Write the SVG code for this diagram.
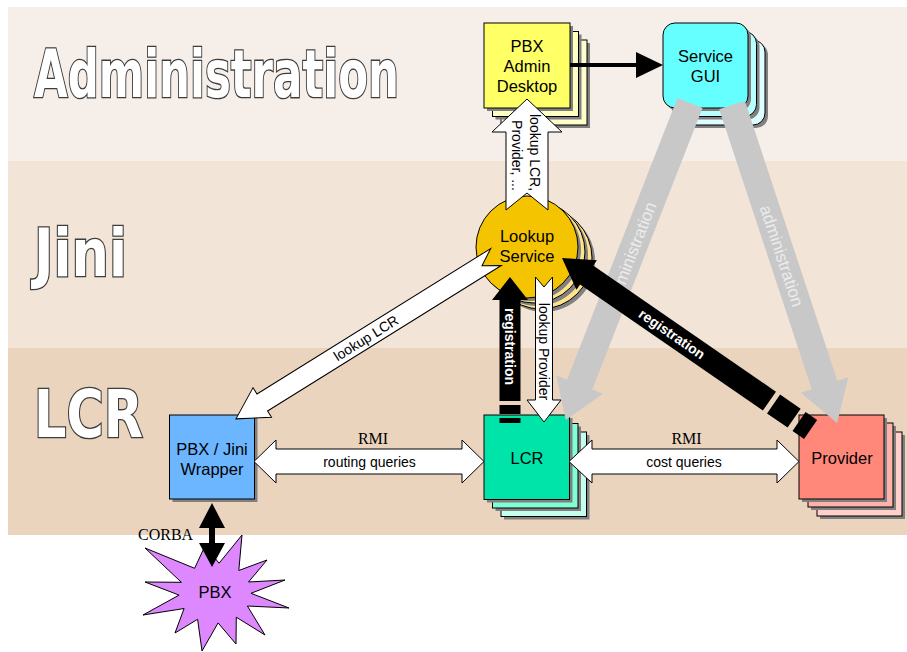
<svg xmlns="http://www.w3.org/2000/svg" width="907" height="652" viewBox="0 0 907 652">
<style>
.title{font-family:"DejaVu Sans","Liberation Sans",Arial,sans-serif;font-weight:bold;font-size:48px;fill:#fff;stroke:#3c3c3c;stroke-width:2.4;paint-order:stroke;vector-effect:non-scaling-stroke}
.nt{font-family:"Liberation Sans",Arial,sans-serif;font-size:16.5px;fill:#000;text-anchor:middle}
.lt{font-family:"Liberation Sans",Arial,sans-serif;font-size:14px;fill:#000;text-anchor:middle}
.rt{font-family:"Liberation Sans",Arial,sans-serif;font-size:14px;font-weight:bold;fill:#fff;text-anchor:middle}
.gt{font-family:"Liberation Sans",Arial,sans-serif;font-size:17px;fill:#ececec;text-anchor:middle}
.sf{font-family:"Liberation Serif","Times New Roman",serif;font-size:16px;fill:#000}
.ol{stroke:#000;stroke-width:1}
.sh{fill:#808080}
.wa{fill:#fff;stroke:#000;stroke-width:1}
.ga{fill:#c8c8c8}
.bk{fill:#000}
</style>
<g id="bands">
<rect x="8" y="7" width="899" height="154" fill="#F6EEE8"/>
<rect x="8" y="161" width="899" height="187" fill="#F2E4D7"/>
<rect x="8" y="348" width="899" height="187" fill="#EAD4BE"/>
<text class="title" transform="translate(34,97) scale(1,1.375)" x="0" y="0" textLength="365" lengthAdjust="spacingAndGlyphs">Administration</text>
<text class="title" transform="translate(34,276) scale(1,1.375)" x="0" y="0" textLength="93" lengthAdjust="spacingAndGlyphs">Jini</text>
<text class="title" transform="translate(34,437) scale(1,1.375)" x="0" y="0" textLength="109" lengthAdjust="spacingAndGlyphs">LCR</text>
</g>
<g id="desktop">
<rect class="sh" x="504" y="43" width="86" height="85"/>
<rect class="ol" x="501" y="40" width="86" height="85" fill="#FFFFCC"/>
<rect class="sh" x="495.5" y="34.5" width="86" height="85"/>
<rect class="ol" x="492.5" y="31.5" width="86" height="85" fill="#FFFFC0"/>
<rect class="sh" x="487" y="26" width="86" height="85"/>
<rect class="ol" x="484" y="23" width="86" height="85" fill="#FFFF66"/>
<text class="nt" x="527" y="52">PBX</text>
<text class="nt" x="527" y="72">Admin</text>
<text class="nt" x="527" y="92">Desktop</text>
</g>
<g id="gui">
<rect class="sh" x="683" y="43" width="85" height="85" rx="12"/>
<rect class="ol" x="680" y="40" width="85" height="85" rx="12" fill="#DDFFFF"/>
<rect class="sh" x="674.5" y="34.5" width="85" height="85" rx="12"/>
<rect class="ol" x="671.5" y="31.5" width="85" height="85" rx="12" fill="#B8FFFF"/>
<rect class="sh" x="666" y="26" width="85" height="85" rx="12"/>
<rect class="ol" x="663" y="23" width="85" height="85" rx="12" fill="#66FFFF"/>
<text class="nt" x="705.5" y="62">Service</text>
<text class="nt" x="705.5" y="82">GUI</text>
</g>
<g id="lookup">
<circle class="sh" cx="544" cy="261" r="51"/>
<circle class="ol" cx="541" cy="258" r="51" fill="#FFE38C"/>
<circle class="sh" cx="537" cy="255" r="51"/>
<circle class="ol" cx="534" cy="252" r="51" fill="#FFE38C"/>
<circle class="sh" cx="530" cy="250" r="51"/>
<circle class="ol" cx="527" cy="247" r="51" fill="#F5C400"/>
<text class="nt" x="527" y="242">Lookup</text>
<text class="nt" x="527" y="262">Service</text>
</g>
<g id="wrapper">
<rect class="sh" x="172.5" y="418" width="85" height="84"/>
<rect class="ol" x="169.5" y="415" width="85" height="84" fill="#6CB6FF"/>
<text class="nt" x="212" y="454.5">PBX / Jini</text>
<text class="nt" x="212" y="474.5">Wrapper</text>
</g>
<g id="lcr">
<rect class="sh" x="504" y="435" width="85.5" height="84.5"/>
<rect class="ol" x="501" y="432" width="85.5" height="84.5" fill="#C4FFEE"/>
<rect class="sh" x="495.5" y="426.5" width="85.5" height="84.5"/>
<rect class="ol" x="492.5" y="423.5" width="85.5" height="84.5" fill="#80FFD6"/>
<rect class="sh" x="487" y="418" width="85.5" height="84.5"/>
<rect class="ol" x="484" y="415" width="85.5" height="84.5" fill="#00E4AA"/>
<text class="nt" x="527" y="463.5">LCR</text>
</g>
<g id="provider">
<rect class="sh" x="820" y="435" width="85" height="84"/>
<rect class="ol" x="817" y="432" width="85" height="84" fill="#FFD0CA"/>
<rect class="sh" x="811" y="426" width="85" height="84"/>
<rect class="ol" x="808" y="423" width="85" height="84" fill="#FFB2AA"/>
<rect class="sh" x="802" y="418" width="85" height="84"/>
<rect class="ol" x="799" y="415" width="85" height="84" fill="#FF887A"/>
<text class="nt" x="842" y="463.5">Provider</text>
</g>
<g id="pbx">
<polygon class="ol" fill="#DD88FF" points="145,548 194.6,568.3 205,546 219.1,563.2 242,535 238.8,570.5 267,560 248.5,582 285,580 251,593.3 289,608 247.4,606 265,635 236.3,617.2 236,644 218.1,622.9 202,651 197.6,619.3 175,633 184.1,608.5 143,615 179.1,595.1 145,582 181.4,582.3"/>
<text class="nt" x="215" y="598">PBX</text>
</g>
<g id="connectors">
<g transform="translate(690,103) rotate(111.4)">
<polygon class="ga" points="0,-13.5 302.4,-13.5 302.4,-25 340.4,0 302.4,25 302.4,13.5 0,13.5"/>
</g>
<text class="gt" transform="translate(631.8,252) rotate(-68.6)" x="0" y="6">administration</text>
<g transform="translate(732,105) rotate(71.7)">
<polygon class="ga" points="0,-13.5 294.9,-13.5 294.9,-25 334.9,0 294.9,25 294.9,13.5 0,13.5"/>
<text class="gt" x="159" y="6">administration</text>
</g>
<line x1="570" y1="65" x2="637" y2="65" stroke="#000" stroke-width="4"/>
<polygon class="bk" points="636,52 663,65 636,78"/>
<polygon class="wa" points="506,210 506,132 492,132 527,99 562,132 548,132 548,210 527,193"/>
<g transform="translate(527,152) rotate(90)">
<text class="lt" x="0.5" y="-3">lookup LCR,</text>
<text class="lt" x="3.5" y="15">Provider, ...</text>
</g>
<polygon class="wa" points="535.5,277 544,287 552.5,277 552.5,400 561,400 544,422 527,400 535.5,400"/>
<text class="lt" transform="translate(544,351.5) rotate(90)" x="0" y="5">lookup Provider</text>
<g transform="translate(496,257) rotate(148.1)">
<polygon class="wa" points="0,-10 275.3,-10 275.3,-17.5 306.3,0 275.3,17.5 275.3,10 0,10 16.5,0"/>
</g>
<text class="lt" font-size="14.5" transform="translate(366,338) rotate(-31.9)" x="0" y="5">lookup LCR</text>
<polygon class="wa" points="254,461.5 276,440 276,449 462,449 462,440 484,461.5 462,483 462,474 276,474 276,483"/>
<text class="sf" x="373" y="444" text-anchor="middle">RMI</text>
<text class="lt" x="369.5" y="466.5">routing queries</text>
<polygon class="wa" points="569,461.5 592,440 592,449 777,449 777,440 799,461.5 777,483 777,474 592,474 592,483"/>
<text class="sf" x="686.5" y="444" text-anchor="middle">RMI</text>
<text class="lt" x="684" y="466.5">cost queries</text>
<polygon class="bk" points="510,277 528,300 492,300"/>
<rect class="bk" x="499.5" y="299" width="21" height="102"/>
<rect class="bk" x="499.5" y="405" width="21" height="9"/>
<rect class="bk" x="499.5" y="418" width="21" height="5"/>
<text class="rt" transform="translate(510,346.5) rotate(90)" x="0" y="5">registration</text>
<g transform="translate(562,258) rotate(34.6)">
<polygon class="bk" points="0,0 30,-18 30,18"/>
<rect class="bk" x="29" y="-11.5" width="223" height="23"/>
<rect class="bk" x="257" y="-11.5" width="25" height="23"/>
<rect class="bk" x="288" y="-11.5" width="14" height="23"/>
<text class="rt" x="133.7" y="5">registration</text>
</g>
<polygon class="bk" points="212,503 225,528 199,528"/>
<rect class="bk" x="209" y="527" width="6" height="17"/>
<polygon class="bk" points="199,543 225,543 212,567"/>
<text class="sf" x="138" y="540">CORBA</text>
</g>
</svg>
